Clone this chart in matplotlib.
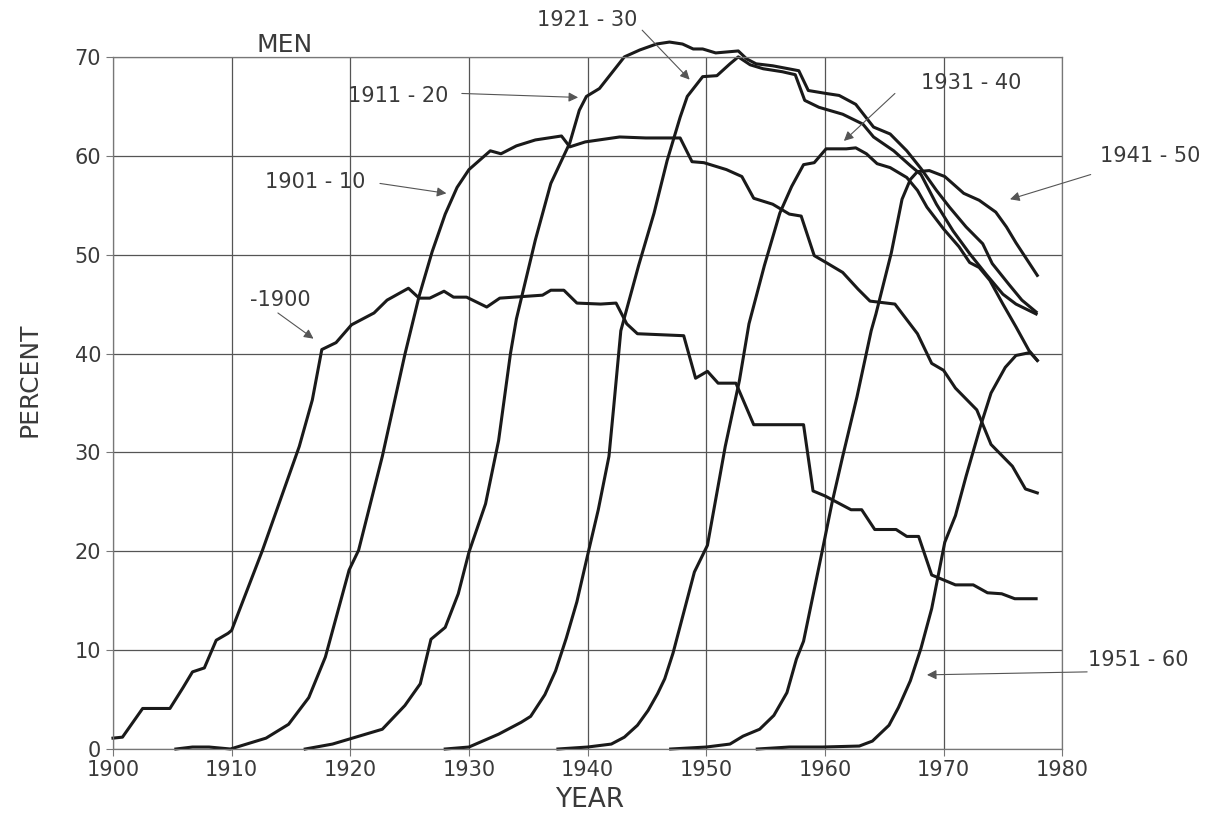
import matplotlib
matplotlib.use('Agg')
from matplotlib import pyplot as plt

# percent of men by birth cohort
yr_pre1900 = [1900, 1900.8, 1902.5, 1904.8, 1905.9, 1906.7, 1907.7, 1908.7, 1909.7, 1910,
              1912.6, 1915.7, 1916.8, 1917.6, 1918.8, 1920.1, 1922, 1923.1, 1924.9, 1925.8,
              1926.7, 1927.9, 1928.7, 1929.8, 1931.5, 1932.6, 1936.2, 1936.9, 1938, 1939.1,
              1941.1, 1942.4, 1943.3, 1944.2, 1948.1, 1949.1, 1950.1, 1951, 1952.5, 1954,
              1958.2, 1959, 1960, 1962.2, 1963.1, 1964.2, 1966, 1966.9, 1967.9, 1969,
              1971, 1972.5, 1973.7, 1974.9, 1976, 1977.8]
pct_pre1900 = [1.1, 1.2, 4.1, 4.1, 6.2, 7.8, 8.2, 11, 11.7, 12,
               20.1, 30.6, 35.3, 40.4, 41.1, 42.9, 44.1, 45.4, 46.6, 45.6,
               45.6, 46.3, 45.7, 45.7, 44.7, 45.6, 45.9, 46.4, 46.4, 45.1,
               45, 45.1, 43, 42, 41.8, 37.5, 38.2, 37, 37, 32.8,
               32.8, 26.1, 25.6, 24.2, 24.2, 22.2, 22.2, 21.5, 21.5, 17.6,
               16.6, 16.6, 15.8, 15.7, 15.2, 15.2]

yr_1901 = [1905.3, 1906.7, 1908.1, 1909.9, 1912.9, 1914.8, 1916.5, 1917.9, 1919.9, 1920.7,
           1922.7, 1924.6, 1925.8, 1926.9, 1928, 1929, 1930, 1931.8, 1932.7, 1934,
           1935.6, 1937.8, 1938.5, 1939.8, 1942.7, 1944.9, 1947.8, 1948.8, 1949.8, 1951.7,
           1953, 1954, 1955.6, 1957, 1958, 1959.1, 1960.1, 1961.5, 1962.8, 1963.8,
           1965.9, 1967.8, 1969, 1970, 1971, 1972.8, 1974, 1975.8, 1976.9, 1977.9]
pct_1901 = [0, 0.2, 0.2, 0, 1.1, 2.5, 5.2, 9.3, 18.1, 20.1,
            29.6, 39.9, 45.8, 50.3, 54.1, 56.8, 58.6, 60.5, 60.2, 61,
            61.6, 62, 60.9, 61.4, 61.9, 61.8, 61.8, 59.4, 59.3, 58.6,
            57.9, 55.7, 55.1, 54.1, 53.9, 49.9, 49.2, 48.2, 46.5, 45.3,
            45, 42, 39, 38.3, 36.5, 34.3, 30.8, 28.6, 26.3, 25.9]

yr_1911 = [1916.2, 1918.5, 1919.9, 1922.7, 1924.6, 1925.9, 1926.8, 1928, 1929.1, 1930,
           1931.4, 1932.5, 1933.5, 1934, 1935.6, 1936.9, 1938.5, 1939.3, 1939.9, 1941,
           1943.1, 1944.4, 1945.8, 1946.9, 1948, 1948.9, 1949.7, 1950.8, 1952.7, 1953.4,
           1954.2, 1955.6, 1957.8, 1958.6, 1960.1, 1961.2, 1962.6, 1964.1, 1965.5, 1966.9,
           1968.1, 1969.4, 1970.5, 1971.9, 1973.3, 1974.1, 1975.5, 1976.6, 1977.8]
pct_1911 = [0, 0.5, 1.0, 2.0, 4.4, 6.6, 11.1, 12.3, 15.7, 19.9,
            24.8, 31.2, 40, 43.5, 51.5, 57.2, 61.3, 64.6, 66, 66.8,
            70, 70.7, 71.3, 71.5, 71.3, 70.8, 70.8, 70.4, 70.6, 69.8,
            69.3, 69.1, 68.6, 66.6, 66.3, 66.1, 65.2, 62.9, 62.2, 60.5,
            58.7, 56.5, 54.8, 52.8, 51.1, 49.1, 47, 45.4, 44.2]

yr_1921 = [1928, 1930, 1932.5, 1934.4, 1935.2, 1936.4, 1937.3, 1938.2, 1939.1, 1940,
           1940.9, 1941.8, 1942.2, 1942.8, 1944.3, 1945.6, 1946.7, 1947.8, 1948.4, 1949.7,
           1950.9, 1952, 1952.7, 1953.7, 1954.8, 1956.4, 1957.5, 1958.3, 1959.5, 1961.5,
           1963.2, 1964.1, 1965.8, 1967.2, 1968.1, 1969.4, 1970.8, 1972.2, 1973.6, 1975,
           1976.1, 1977.8]
pct_1921 = [0, 0.2, 1.5, 2.7, 3.3, 5.5, 7.9, 11.2, 14.9, 19.6,
            24.2, 29.6, 34.6, 42.3, 48.9, 54.2, 59.5, 63.9, 66, 68,
            68.1, 69.3, 70, 69.2, 68.8, 68.5, 68.2, 65.6, 64.9, 64.2,
            63.2, 61.9, 60.5, 59, 58.1, 55.1, 52.4, 50.1, 48, 46,
            45, 44]

yr_1931 = [1937.5, 1940, 1942, 1943.1, 1944.2, 1945.1, 1945.9, 1946.5, 1947.2, 1949,
           1950.1, 1951.6, 1952.8, 1953.6, 1954.9, 1956.2, 1957.2, 1958.2, 1959.1, 1960.1,
           1961.8, 1962.6, 1963.5, 1964.4, 1965.5, 1966.9, 1967.8, 1968.6, 1970, 1971.3,
           1972.2, 1973, 1973.9, 1975, 1976.1, 1977.2, 1977.9]
pct_1931 = [0, 0.2, 0.5, 1.2, 2.4, 3.9, 5.6, 7.1, 9.7, 17.9,
            20.6, 30.6, 37.3, 43, 48.9, 54.2, 56.9, 59.1, 59.3, 60.7,
            60.7, 60.8, 60.2, 59.2, 58.8, 57.8, 56.5, 54.8, 52.6, 50.8,
            49.2, 48.7, 47.4, 45, 42.7, 40.3, 39.3]

yr_1941 = [1947, 1950, 1952, 1953.1, 1954.5, 1955.7, 1956.8, 1957.6, 1958.2, 1959.7,
           1960.6, 1961.5, 1962.7, 1963.9, 1964.3, 1965.6, 1966.5, 1967.2, 1967.8, 1968.8,
           1970.1, 1971.7, 1973, 1974.4, 1975.3, 1976.1, 1977.9]
pct_1941 = [0, 0.2, 0.5, 1.3, 2, 3.4, 5.7, 9.1, 10.9, 19.6,
            24.9, 29.6, 35.6, 42.3, 44, 50.2, 55.6, 57.6, 58.4, 58.5,
            57.9, 56.2, 55.5, 54.3, 52.8, 51.2, 47.9]

yr_1951 = [1954.3, 1957, 1959.8, 1962.9, 1964, 1965.4, 1966.2, 1967.2, 1968.1, 1969,
           1970.1, 1971, 1971.9, 1973.1, 1974, 1975.2, 1976.1, 1977.3, 1977.9]
pct_1951 = [0, 0.2, 0.2, 0.3, 0.8, 2.4, 4.2, 6.9, 10.2, 14.2,
            20.9, 23.6, 27.6, 32.6, 36, 38.6, 39.8, 40.1, 39.3]

cohorts = [(yr_pre1900, pct_pre1900), (yr_1901, pct_1901), (yr_1911, pct_1911),
           (yr_1921, pct_1921), (yr_1931, pct_1931), (yr_1941, pct_1941),
           (yr_1951, pct_1951)]

# label text, text position, arrow start, arrow tip (data coords)
labels = [
    ('-1900', (1914.1, 45.4), (1913.9, 44.1), (1916.9, 41.5)),
    ('1901 - 10', (1917.0, 57.3), (1922.5, 57.2), (1928.1, 56.2)),
    ('1911 - 20', (1924.0, 66.05), (1929.4, 66.3), (1939.2, 65.9)),
    ('1921 - 30', (1940.0, 73.7), (1944.6, 72.7), (1948.6, 67.7)),
    ('1931 - 40', (1972.3, 67.4), (1965.9, 66.3), (1961.6, 61.5)),
    ('1941 - 50', (1987.4, 60.0), (1982.4, 58.1), (1975.6, 55.6)),
    ('1951 - 60', (1986.4, 9.0), (1982.1, 7.8), (1968.6, 7.5)),
]

txt = '#3a3a3a'

fig = plt.figure(figsize=(12.28, 8.22), dpi=100)
ax = fig.add_axes([0.092, 0.0888, 0.773, 0.842])

for x, y in cohorts:
    ax.plot(x, y, color='#1a1a1a', lw=2.2, clip_on=False, solid_joinstyle='round')

ax.set_xlim(1900, 1980)
ax.set_ylim(0, 70)
ax.set_xticks(range(1900, 1981, 10))
ax.set_yticks(range(0, 71, 10))
ax.grid(True, color='#555555', lw=0.9)
ax.set_axisbelow(True)
for s in ax.spines.values():
    s.set_color('#777777')
    s.set_linewidth(0.9)
ax.tick_params(axis='both', labelsize=15, colors='#777777', labelcolor=txt, length=5, width=0.8)
ax.tick_params(axis='x', pad=3)

fig.text(0.4805, 0.027, 'YEAR', fontsize=19, color=txt, ha='center', va='center')
fig.text(0.024, 0.538, 'PERCENT', fontsize=18, color=txt, ha='center', va='center',
         rotation=90, family=['Liberation Sans Narrow', 'DejaVu Sans'])

ax.text(1914.5, 71.2, 'MEN', fontsize=18, color=txt, ha='center', va='center')

for name, tpos, start, tip in labels:
    ax.text(tpos[0], tpos[1], name, fontsize=15, color=txt, ha='center', va='center', clip_on=False)
    ax.annotate('', xy=tip, xytext=start, annotation_clip=False,
                arrowprops=dict(arrowstyle='-|>', color='#555555', lw=0.8,
                                mutation_scale=14, shrinkA=0, shrinkB=0))

plt.savefig('out.png', dpi=100)
